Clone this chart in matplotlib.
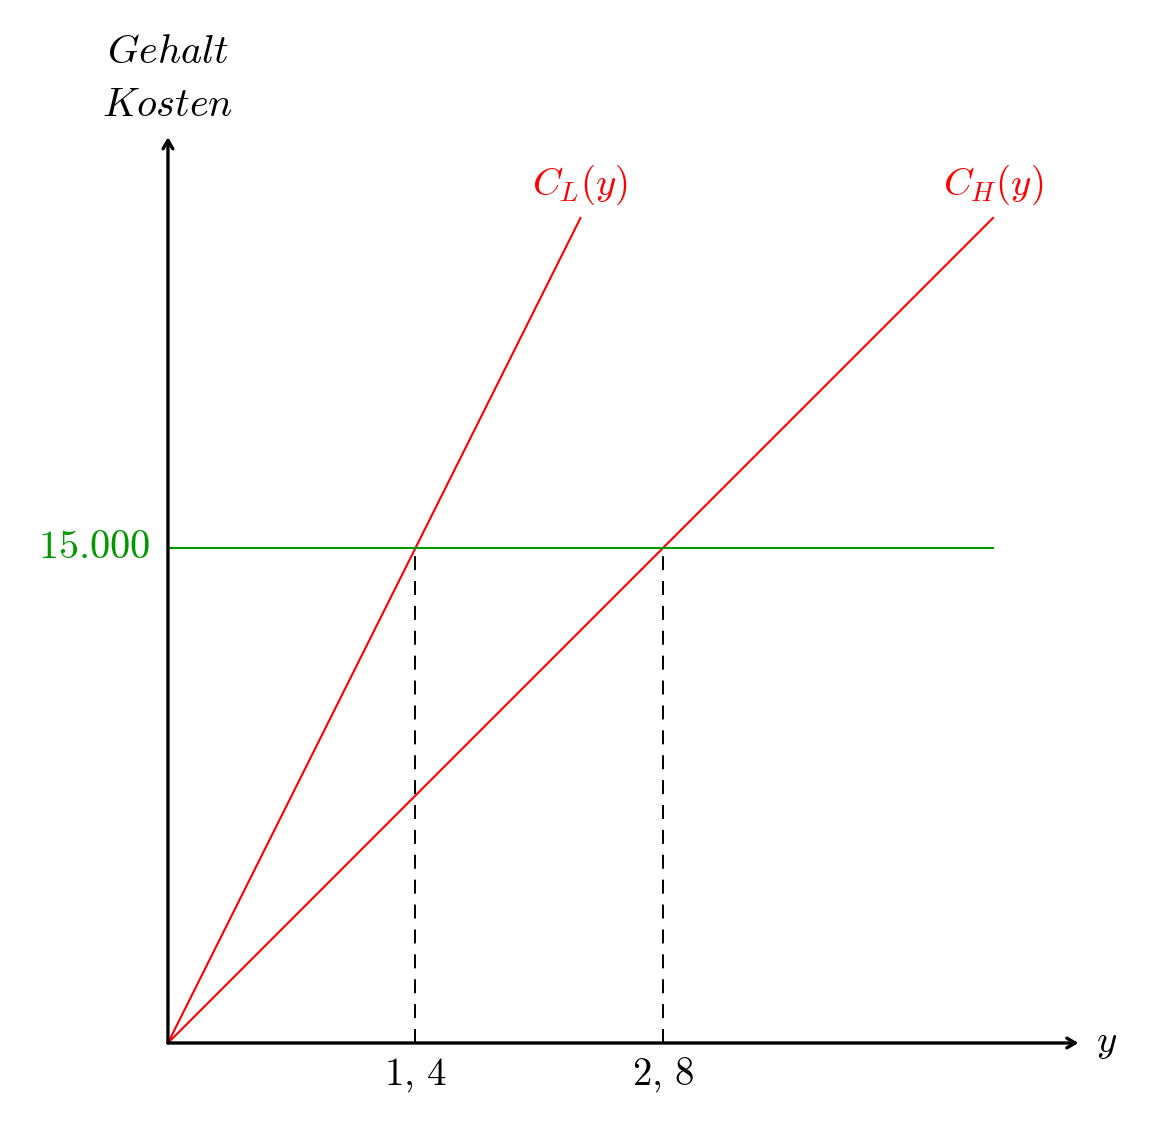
import numpy as np
import matplotlib.pyplot as plt

plt.rcParams['mathtext.fontset'] = 'cm'
plt.rcParams['font.family'] = ['DejaVu Serif']

# data
salary = 15000
y_low = 1.4     # C_L(y) = salary at y = 1.4
y_high = 2.8    # C_H(y) = salary at y = 2.8
cost_max = 25000
x_axis_end = 5.15
y_axis_end = 27450
tick_labels = [r"$1,\,4$", r"$2,\,8$"]

red = "#ff0000"
green = "#009900"

fig = plt.figure(figsize=(11.52, 11.31), dpi=100)
ax = fig.add_axes([0, 0, 1, 1])
ax.set_xlim(-0.950, 5.566)
ax.set_ylim(-2667, 31606)
ax.axis("off")

# cost lines
slope_l = salary / y_low
slope_h = salary / y_high
xl = np.array([0, cost_max / slope_l])
xh = np.array([0, cost_max / slope_h])
ax.plot(xl, slope_l * xl, color=red, lw=1.5)
ax.plot(xh, slope_h * xh, color=red, lw=1.5)

# salary line
ax.plot([0, xh[-1]], [salary, salary], color=green, lw=1.5)

# dashed drop lines
for xv in (y_low, y_high):
    ax.plot([xv, xv], [0, salary], color="black", lw=1.4, ls=(0, (7.2, 5.6)))

# axes arrows
arrow = dict(arrowstyle="->,head_length=0.6,head_width=0.35", color="black", lw=2.4,
             shrinkA=0, shrinkB=0)
ax.annotate("", xy=(x_axis_end, 0), xytext=(0, 0), arrowprops=arrow)
ax.annotate("", xy=(0, y_axis_end), xytext=(0, 0), arrowprops=arrow)

fs = 28
ax.text(x_axis_end + 0.1, 0, "$y$", fontsize=fs, ha="left", va="center")
ax.text(0, 30000, "$Gehalt$", fontsize=fs + 1, ha="center", va="center")
ax.text(0, 28420, "$Kosten$", fontsize=fs + 1, ha="center", va="center")
for xv, lab in zip((y_low, y_high), tick_labels):
    ax.text(xv, -970, lab, fontsize=fs, ha="center", va="center")
ax.text(-0.1, salary, "$15.000$", fontsize=fs + 1, color=green, ha="right", va="center")
ax.text(xl[-1], 26000, "$C_L(y)$", fontsize=fs, color=red, ha="center", va="center")
ax.text(xh[-1], 26000, "$C_H(y)$", fontsize=fs, color=red, ha="center", va="center")

fig.savefig("out.png", dpi=100)
